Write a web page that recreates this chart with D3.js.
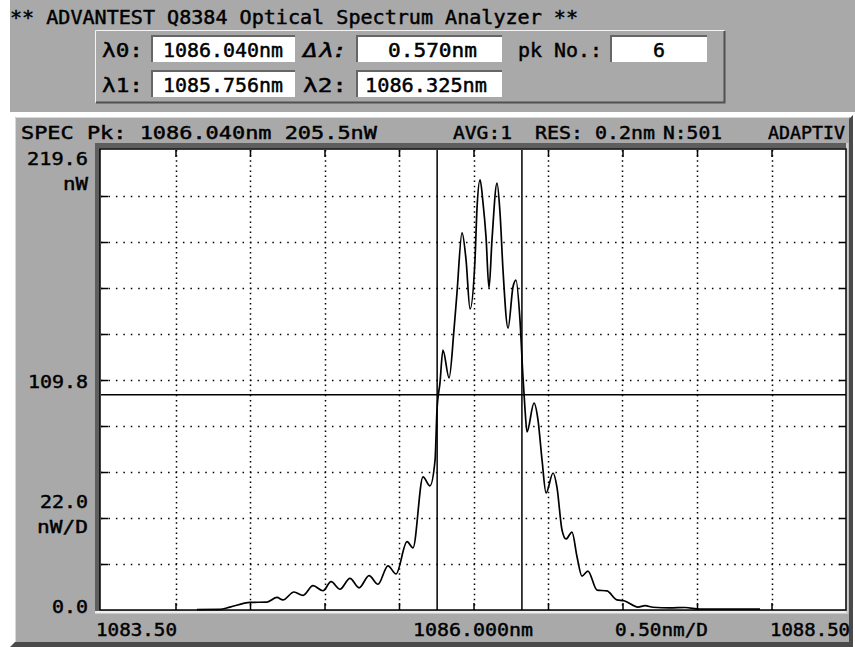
<!DOCTYPE html>
<html>
<head>
<meta charset="utf-8">
<script src="https://cdn.jsdelivr.net/npm/d3@7"></script>
<style>
  body { margin: 0; background: #fff; }
  text { font-family: "DejaVu Sans Mono", "Liberation Mono", monospace; fill: #000; stroke: #000; stroke-width: 0.45px; }
</style>
</head>
<body>
<svg></svg>
<script>
// Spectrum trace (wavelength in nm, power in nW)
const wavelength = [1084.144, 1084.299, 1084.366, 1084.500, 1084.614, 1084.681, 1084.721, 1084.795,
  1084.856, 1084.923, 1084.990, 1085.044, 1085.104, 1085.171, 1085.232, 1085.299, 1085.359,
  1085.426, 1085.480, 1085.554, 1085.594, 1085.661, 1085.708, 1085.742, 1085.755, 1085.775,
  1085.795, 1085.836, 1085.869, 1085.889, 1085.923, 1085.950, 1085.977, 1086.010, 1086.023,
  1086.044, 1086.064, 1086.084, 1086.104, 1086.124, 1086.158, 1086.178, 1086.198, 1086.232,
  1086.265, 1086.285, 1086.312, 1086.332, 1086.346, 1086.359, 1086.406, 1086.433, 1086.460,
  1086.487, 1086.534, 1086.560, 1086.594, 1086.621, 1086.661, 1086.695, 1086.728, 1086.768,
  1086.829, 1086.896, 1086.963, 1087.010, 1087.104, 1087.151, 1087.205, 1087.319, 1087.419,
  1087.520, 1087.923];
const power = [0.2, 0.3, 1.4, 3.6, 3.8, 6.0, 4.8, 8.6,
  7.0, 11.6, 9.2, 13.5, 9.9, 15.1, 10.6, 16.4, 12.3,
  21.1, 17.2, 32.6, 29.7, 63.6, 59.3, 71.6, 95.5, 108.4,
  124.1, 110.8, 133.7, 151.3, 180.0, 167.1, 143.7, 167.1, 191.0,
  205.3, 194.3, 178.1, 153.7, 176.6, 203.8, 189.5, 162.3, 134.6,
  154.2, 157.5, 138.4, 111.2, 95.5, 85.0, 98.8, 90.7, 71.6,
  55.9, 65.4, 58.7, 38.2, 33.9, 37.2, 25.3, 16.2, 18.6,
  9.5, 9.1, 4.8, 4.4, 1.4, 2.1, 1.3, 1.0, 1.2,
  0.4, 0.4];

const xDomain = [1083.5, 1088.5];
const yDomain = [0, 219.6];
const xGridTicks = [1084.0, 1084.5, 1085.0, 1085.5, 1086.0, 1086.5, 1087.0, 1087.5, 1088.0];
const yGridTicks = [21.96, 43.92, 65.88, 87.84, 109.8, 131.76, 153.72, 175.68, 197.64];
const lambda1 = 1085.756, lambda2 = 1086.325, halfLevel = 102.75;

const titleText = "** ADVANTEST Q8384 Optical Spectrum Analyzer **";
const fieldLabels = ["λ0:", "Δλ:", "pk No.:", "λ1:", "λ2:"];
const fieldValues = ["1086.040nm", "0.570nm", "6", "1085.756nm", "1086.325nm"];
const statusText = ["SPEC Pk: 1086.040nm 205.5nW", "AVG:1", "RES: 0.2nm", "N:501", "ADAPTIV"];
const yLabels = ["219.6", "nW", "109.8", "22.0", "nW/D", "0.0"];
const xLabels = ["1083.50", "1086.000nm", "0.50nm/D", "1088.50"];

const svg = d3.select("svg").attr("width", 855).attr("height", 647);
const gray = "#a9a9a9", dark = "#5e5e5e";

// text helper: start x, baseline y, drawn width, font size
function label(str, x, y, w, size) {
    return svg.append("text")
        .attr("x", x).attr("y", y)
        .attr("textLength", w)
        .attr("lengthAdjust", "spacingAndGlyphs")
        .style("font-size", size + "px")
        .text(str);
}

// ---- header panel
svg.append("rect").attr("x", 10).attr("y", 0).attr("width", 845).attr("height", 112).attr("fill", gray);
label(titleText, 10, 23.5, 568, 19);

// raised box
svg.append("rect").attr("x", 95).attr("y", 30).attr("width", 630).attr("height", 73)
    .attr("fill", gray).attr("stroke", "none");
svg.append("path").attr("d", "M95.5,102.5 V30.5 H724.5").attr("fill", "none").attr("stroke", "#f4f4f4").attr("stroke-width", 1);
svg.append("path").attr("d", "M96,102.5 H724.5 V31").attr("fill", "none").attr("stroke", "#505050").attr("stroke-width", 2);

// field boxes: [label x, label w, box x, box w, box y, value x, value w, baseline]
const fieldLayout = [
    [102, 41, 151, 144, 35, 163, 120, 57],
    [303, 44, 356, 146, 35, 388, 89, 57],
    [518, 84, 610, 97, 35, 653, 12, 57],
    [102, 41, 151, 144, 70, 163, 120, 92],
    [303, 44, 356, 146, 70, 365, 122, 92]
];
fieldLayout.forEach((f, i) => {
    svg.append("rect").attr("x", f[2]).attr("y", f[4]).attr("width", f[3]).attr("height", 27).attr("fill", "#fff");
    svg.append("path").attr("d", `M${f[2] + 1},${f[4] + 27} V${f[4] + 1} H${f[2] + f[3]}`)
        .attr("fill", "none").attr("stroke", "#666").attr("stroke-width", 2);
    label(fieldLabels[i], f[0], f[7], f[1], 19).style("font-style", i === 1 ? "italic" : "normal");
    label(fieldValues[i], f[5], f[7], f[6], 19);
});

// ---- lower panel with 3D edges
svg.append("rect").attr("x", 15).attr("y", 117).attr("width", 835).attr("height", 526).attr("fill", gray);
svg.append("path").attr("d", "M15.5,642 V117.5 H849").attr("fill", "none").attr("stroke", "#d8d8d8").attr("stroke-width", 1);
svg.append("polygon").attr("points", "849,119 853,115 853,647 10,647 15,642 849,642").attr("fill", "#4a4a4a");

// status bar
const statusLayout = [[21, 356], [453, 59], [535, 120], [663, 59], [768, 77]];
statusText.forEach((s, i) => label(s, statusLayout[i][0], 138.5, statusLayout[i][1], 17.5));

// ---- plot area
const plot = {left: 101, right: 846, top: 150, bottom: 610};

// inset bevel
svg.append("polygon").attr("points", `95,143 ${plot.right},143 ${plot.right},148 100,148 100,${plot.bottom} 95,${plot.bottom + 3}`)
    .attr("fill", dark);
svg.append("rect").attr("x", 95).attr("y", plot.bottom + 1).attr("width", plot.right - 95 + 2).attr("height", 2.5).attr("fill", "#eeeeee");
svg.append("rect").attr("x", plot.right).attr("y", 143).attr("width", 2.5).attr("height", plot.bottom - 143 + 3).attr("fill", "#cfcfcf");

svg.append("rect").attr("x", plot.left - 1).attr("y", plot.top - 1)
    .attr("width", plot.right - plot.left + 1).attr("height", plot.bottom - plot.top + 1)
    .attr("fill", "#fff").attr("stroke", "#000").attr("stroke-width", 1.5);

const x = d3.scaleLinear().domain(xDomain).range([plot.left, plot.right]);
const y = d3.scaleLinear().domain(yDomain).range([plot.bottom, plot.top]);

// dotted grid
svg.append("g").selectAll("line").data(xGridTicks).join("line")
    .attr("x1", d => Math.round(x(d)) + 0.5).attr("x2", d => Math.round(x(d)) + 0.5)
    .attr("y1", plot.top).attr("y2", plot.bottom)
    .attr("stroke", "#000").attr("stroke-width", 1.5).attr("stroke-dasharray", "1.5,3.6");
svg.append("g").selectAll("line").data(yGridTicks).join("line")
    .attr("x1", plot.left).attr("x2", plot.right)
    .attr("y1", d => Math.round(y(d)) + 0.5).attr("y2", d => Math.round(y(d)) + 0.5)
    .attr("stroke", "#000").attr("stroke-width", 1.5).attr("stroke-dasharray", "1.5,5.95");

// short solid ticks on all four sides
const tickLen = 7;
function ticks(axis, transform) {
    const g = svg.append("g").attr("transform", transform).call(axis.tickSizeInner(-tickLen).tickSizeOuter(0).tickFormat(""));
    g.select(".domain").remove();
    g.selectAll("line").attr("stroke", "#000").attr("stroke-width", 1.5);
}
ticks(d3.axisBottom(x).tickValues(xGridTicks), `translate(0,${plot.bottom})`);
ticks(d3.axisTop(x).tickValues(xGridTicks), `translate(0,${plot.top})`);
ticks(d3.axisLeft(y).tickValues(yGridTicks), `translate(${plot.left},0)`);
ticks(d3.axisRight(y).tickValues(yGridTicks), `translate(${plot.right},0)`);

// markers: lambda1, lambda2 and half-max level
[lambda1, lambda2].forEach(v => {
    svg.append("line").attr("x1", x(v)).attr("x2", x(v)).attr("y1", plot.top).attr("y2", plot.bottom)
        .attr("stroke", "#000").attr("stroke-width", 1.5);
});
svg.append("line").attr("x1", plot.left).attr("x2", plot.right).attr("y1", y(halfLevel)).attr("y2", y(halfLevel))
    .attr("stroke", "#000").attr("stroke-width", 1.5);

// trace
const trace = wavelength.map((w, i) => [w, power[i]]);
svg.append("path")
    .datum(trace)
    .attr("fill", "none")
    .attr("stroke", "#000")
    .attr("stroke-width", 1.7)
    .attr("d", d3.line().curve(d3.curveMonotoneX).x(d => x(d[0])).y(d => y(d[1])));

// y labels (right aligned near 88)
const yLabelLayout = [[27, 165, 61], [63, 190, 25], [28, 388, 60], [40, 508, 48], [37, 533, 51], [52, 613, 36]];
yLabels.forEach((s, i) => label(s, yLabelLayout[i][0], yLabelLayout[i][1], yLabelLayout[i][2], 17.5));

// x labels
const xLabelLayout = [[96, 81], [413, 120], [615, 93], [770, 80]];
xLabels.forEach((s, i) => label(s, xLabelLayout[i][0], 636, xLabelLayout[i][1], 17.5));
</script>
</body>
</html>
